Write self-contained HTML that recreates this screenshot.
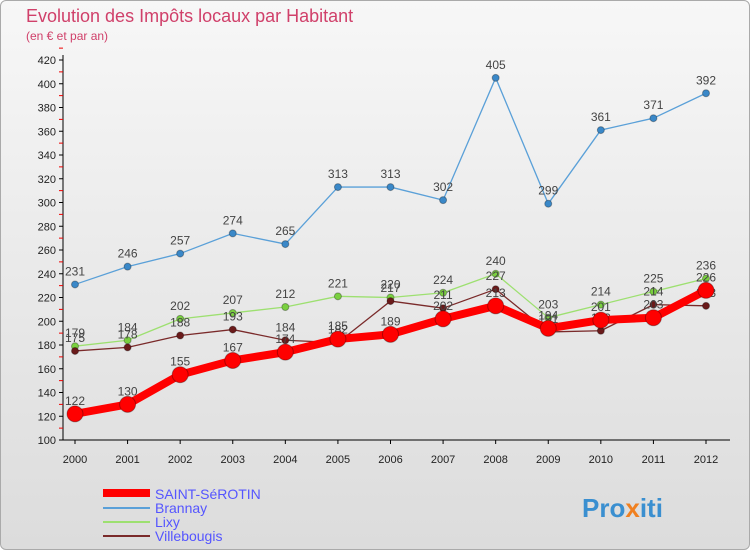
<!DOCTYPE html>
<html><head><meta charset="utf-8"><style>
body{margin:0;width:750px;height:550px;overflow:hidden;font-family:"Liberation Sans",sans-serif}
#wrap{position:absolute;left:0;top:0;width:748px;height:548px;border:1px solid #aaa;border-radius:6px;background:linear-gradient(#f7f7f7,#dcdcdc)}
</style></head><body>
<div id="wrap">
<svg id="chart" width="750" height="550" style="position:absolute;left:-1px;top:-1px">
<text x="26" y="22" font-size="18" fill="#d0406a">Evolution des Impôts locaux par Habitant</text>
<text x="26" y="40" font-size="12" fill="#d0406a">(en € et par an)</text>
<g id="axes"></g><g id="series"></g>
<g>
<line x1="103" y1="493" x2="150" y2="493" stroke="#f00" stroke-width="8"/>
<text x="155" y="499" font-size="14" fill="#55f">SAINT-SéROTIN</text>
<line x1="103" y1="508" x2="150" y2="508" stroke="#5aa0d8" stroke-width="2"/>
<text x="155" y="513" font-size="14" fill="#55f">Brannay</text>
<line x1="103" y1="522" x2="150" y2="522" stroke="#9de070" stroke-width="2"/>
<text x="155" y="527" font-size="14" fill="#55f">Lixy</text>
<line x1="103" y1="536" x2="150" y2="536" stroke="#7a2a2a" stroke-width="2"/>
<text x="155" y="541" font-size="14" fill="#55f">Villebougis</text>
</g>
<text x="582" y="517" font-size="26" font-weight="bold" fill="#3a8fd0">Pro<tspan fill="#f08020">x</tspan>iti</text>
</svg></div>
<script>
const years=[2000,2001,2002,2003,2004,2005,2006,2007,2008,2009,2010,2011,2012];
const yTicks=[100,120,140,160,180,200,220,240,260,280,300,320,340,360,380,400,420];
const saint=[122,130,155,167,174,185,189,202,213,194,201,203,226];
const brannay=[231,246,257,274,265,313,313,302,405,299,361,371,392];
const lixy=[179,184,202,207,212,221,220,224,240,203,214,225,236];
const ville=[175,178,188,193,184,182,217,211,227,191,192,214,213];
const NS="http://www.w3.org/2000/svg";
const x=i=>75+i*(706-75)/(years.length-1);
const y=v=>440-(v-100)*380/320;
function mk(t,a,p){const e=document.createElementNS(NS,t);for(const k in a)e.setAttribute(k,a[k]);p.appendChild(e);return e;}
const ax=document.getElementById('axes');
const yl=mk('line',{x1:63,y1:55,x2:63,y2:440,stroke:'#000'},ax);


const xl=mk('line',{x1:63,y1:440,x2:730,y2:440,stroke:'#000'},ax);


yTicks.forEach(v=>{
 mk('line',{x1:59,y1:y(v),x2:63,y2:y(v),stroke:'#000'},ax);
 mk('line',{x1:59,y1:y(v+10),x2:63,y2:y(v+10),stroke:'#e00'},ax);
 const t=mk('text',{x:56,y:y(v)+4,'font-size':11,'text-anchor':'end',fill:'#222'},ax);t.textContent=v;
 
 
});
years.forEach((yr,i)=>{
 mk('line',{x1:x(i),y1:440,x2:x(i),y2:444,stroke:'#000'},ax);
 const t=mk('text',{x:x(i),y:463,'font-size':11,'text-anchor':'middle',fill:'#222'},ax);t.textContent=yr;
 
 
});
const sg=document.getElementById('series');
function draw(data,color,w,r,name,dot){
 const g=mk('g',{},sg);
 
 
 mk('polyline',{points:data.map((v,i)=>x(i)+','+y(v)).join(' '),fill:'none',stroke:color,'stroke-width':w,'stroke-linejoin':'round'},g);
 data.forEach((v,i)=>{
  const c=mk('circle',{cx:x(i),cy:y(v),r:r,fill:dot,stroke:'rgba(0,0,0,0.3)'},g);
  
  
  const t=mk('text',{x:x(i),y:y(v)-9,'font-size':12,'text-anchor':'middle',fill:'#444'},g);t.textContent=v;
 });
}
draw(brannay,'#5aa0d8',1.3,3.5,'brannay','#3a88c8');
draw(lixy,'#9de070',1.3,3.5,'lixy','#7ad040');
draw(ville,'#7a2a2a',1.3,3.5,'villebougis','#6a1a1a');
draw(saint,'#f00',8,8,'saint-serotin','#f00');
</script>
</body></html>
